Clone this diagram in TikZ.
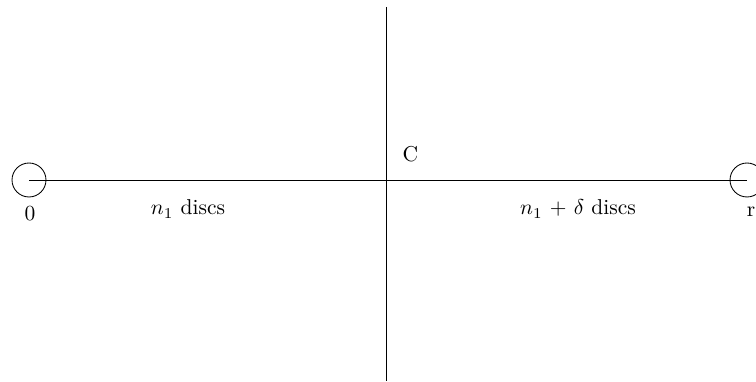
\documentclass[tikz,border=0pt]{standalone}
\begin{document}
\begin{tikzpicture}[x=0.465pt,y=-0.465pt,
  endcircle/.style={draw,circle,inner sep=0pt,minimum size=15.8pt},
  lbl/.style={inner sep=0pt},
  axis/.style={line width=0.4pt}]
\useasboundingbox (0,0) rectangle (756,382);
\node[endcircle] (L) at (29,180) {};
\node[endcircle] (R) at (747,180) {};
\coordinate (top) at (386,7);
\coordinate (bot) at (386,381);
\draw[axis] (L.center) -- (R.center);
\draw[axis] (top) -- (bot);
\node[lbl] (zero) at (30,214) {0};
\node[lbl] (r) at (751,212) {r};
\node[lbl] (C) at (410.5,154.5) {C};
\node[lbl] (left) at (188,209) {$n_1$ discs};
\node[lbl] (right) at (578,209) {$n_1$ + $\delta$ discs};
\end{tikzpicture}
\end{document}
